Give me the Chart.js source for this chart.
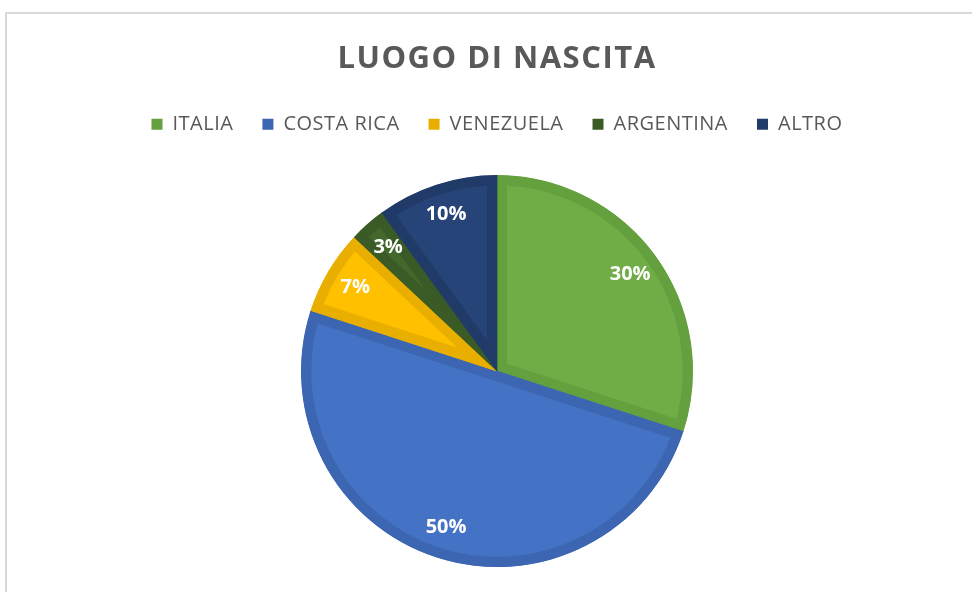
<!DOCTYPE html>
<html>
<head>
<meta charset="utf-8">
<script src="https://cdn.jsdelivr.net/npm/chart.js@4.4.1/dist/chart.umd.min.js"></script>
<style>
  html, body { margin: 0; padding: 0; background: #ffffff; overflow: hidden; width: 972px; height: 592px; }
  #frame { position: absolute; left: 5px; top: 12px; width: 980px; height: 640px; border-left: 2px solid #d9d9d9; border-top: 2px solid #d9d9d9; }
  #wrap { position: absolute; left: 0; top: 0; width: 980px; height: 640px; }
</style>
</head>
<body>
<div id="frame"><div id="wrap"><canvas id="c"></canvas></div></div>
<script>
const chartTitle = "LUOGO DI NASCITA";
const categories = ["ITALIA", "COSTA RICA", "VENEZUELA", "ARGENTINA", "ALTRO"];
const values = [30, 50, 7, 3, 10];
const fillColors = ["#70AD47", "#4472C4", "#FFC000", "#43682B", "#264478"];
const borderColors = ["#64A03E", "#3C66B2", "#E8AE00", "#3A5B25", "#213B69"];

function withSpacing(obj, method, spacing) {
  if (!obj || typeof obj[method] !== 'function') return;
  const orig = obj[method].bind(obj);
  obj[method] = function (...args) {
    const ctx = obj.ctx;
    const prev = ctx.letterSpacing;
    ctx.letterSpacing = spacing;
    try { return orig(...args); } finally { ctx.letterSpacing = prev || '0px'; }
  };
}

const spacingPlugin = {
  id: 'textSpacing',
  afterInit(chart) {
    withSpacing(chart.titleBlock, 'draw', '1.5px');
    withSpacing(chart.legend, 'fit', '0.5px');
    withSpacing(chart.legend, 'draw', '0.5px');
  }
};

const labelPlugin = {
  id: 'sliceLabels',
  afterDatasetsDraw(chart) {
    const ctx = chart.ctx;
    const meta = chart.getDatasetMeta(0);
    const total = values.reduce((a, b) => a + b, 0);
    ctx.save();
    ctx.letterSpacing = '0px';
    ctx.fillStyle = '#ffffff';
    ctx.font = 'bold 20px "Open Sans", sans-serif';
    ctx.textAlign = 'center';
    ctx.textBaseline = 'middle';
    meta.data.forEach((arc, i) => {
      const mid = (arc.startAngle + arc.endAngle) / 2;
      const r = arc.outerRadius * 0.84;
      const x = arc.x + Math.cos(mid) * r;
      const y = arc.y + Math.sin(mid) * r;
      ctx.fillText(Math.round(values[i] / total * 100) + '%', x, y);
    });
    ctx.restore();
  }
};

new Chart(document.getElementById('c'), {
  type: 'pie',
  data: {
    labels: categories,
    datasets: [{
      data: values,
      backgroundColor: fillColors,
      borderColor: borderColors,
      borderWidth: 10,
      borderAlign: 'inner',
      hoverOffset: 0
    }]
  },
  options: {
    responsive: true,
    maintainAspectRatio: false,
    animation: false,
    radius: 196,
    layout: { padding: { top: 0, bottom: 56, left: 0, right: 0 } },
    plugins: {
      tooltip: { enabled: false },
      title: {
        display: true,
        text: chartTitle,
        color: '#595959',
        font: { family: '"Open Sans", sans-serif', size: 31, weight: 'bold' },
        padding: { top: 27, bottom: 7 }
      },
      legend: {
        position: 'top',
        labels: {
          color: '#595959',
          font: { family: '"Open Sans", sans-serif', size: 20 },
          boxWidth: 11,
          boxHeight: 11,
          padding: 29,
          generateLabels(chart) {
            return categories.map((c, i) => ({
              text: c,
              fillStyle: borderColors[i],
              strokeStyle: borderColors[i],
              lineWidth: 0,
              fontColor: '#595959',
              hidden: false,
              index: i
            }));
          }
        }
      }
    }
  },
  plugins: [spacingPlugin, labelPlugin]
});
</script>
</body>
</html>
